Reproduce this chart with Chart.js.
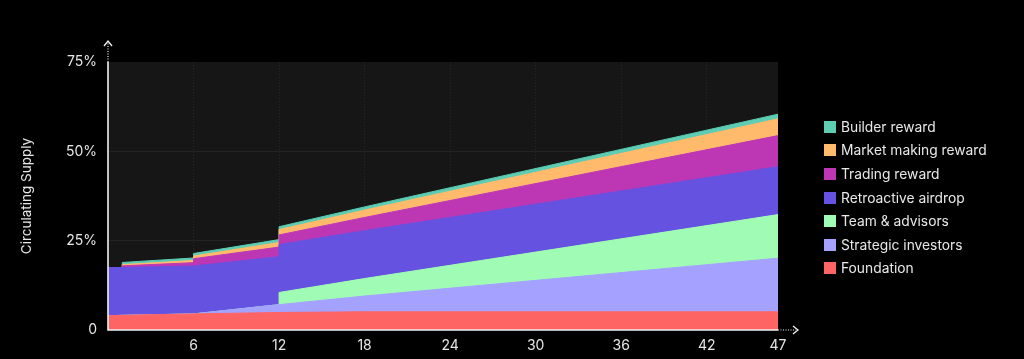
<!DOCTYPE html>
<html><head><meta charset="utf-8">
<script src="https://cdn.jsdelivr.net/npm/chart.js@4.4.1/dist/chart.umd.min.js"></script>
<style>
html,body{margin:0;padding:0;background:#000;}
#wrap{position:relative;width:1024px;height:359px;overflow:hidden;}
canvas{display:block;}
#legend{position:absolute;left:0;top:0;font-family:Inter,"Noto Sans",sans-serif;font-size:13.8px;color:#e8e8e8;}
.item{position:absolute;display:flex;align-items:center;white-space:nowrap;height:16px;line-height:16px;}
.sw{width:12px;height:12px;margin-right:5px;flex:none;}
</style></head>
<body><div id="wrap"><canvas id="c" width="1024" height="359"></canvas><div id="legend"></div></div>
<script>
// ---- data (months since launch, % of total supply per category) ----
const months             = [0,    1,    1,    6,    6,    12,   12,   18,   47];
const foundation         = [4.0,  4.1,  4.1,  4.5,  4.5,  4.9,  4.9,  5.1,  5.1];
const strategicInvestors = [0,    0,    0,    0,    0,    2.2,  2.2,  4.4,  15.0];
const teamAdvisors       = [0,    0,    0,    0,    0,    0,    3.4,  4.9,  12.2];
const retroactiveAirdrop = [13.4, 13.4, 13.4, 13.4, 13.4, 13.4, 13.4, 13.4, 13.4];
const tradingReward      = [0,    0,    0.45, 0.95, 2.05, 2.7,  2.7,  3.7,  8.7];
const marketMakingReward = [0,    0,    0.35, 0.6,  0.75, 1.3,  1.5,  2.05, 4.7];
const builderReward      = [0,    0,    0.6,  0.7,  0.7,  0.8,  0.8,  0.9,  1.3];

const seriesNames = ["Foundation","Strategic investors","Team & advisors","Retroactive airdrop","Trading reward","Market making reward","Builder reward"];
const xTicks = [6,12,18,24,30,36,42,47];
const xTickLabels = ["6","12","18","24","30","36","42","47"];
const yTicks = [0,25,50,75];
const yTickLabels = ["0","25%","50%","75%"];
const yTitle = "Circulating Supply";

// ---- styles ----
const seriesColors = ["#FF6464","#A5A1FF","#A0FCB4","#6652E1","#BD37B5","#FFBA6C","#5DCDB4"];
const series = [foundation, strategicInvestors, teamAdvisors, retroactiveAirdrop, tradingReward, marketMakingReward, builderReward];

let running = months.map(() => 0);
const datasets = series.map((vals, k) => {
  running = running.map((r, i) => r + vals[i]);
  return {
    label: seriesNames[k],
    data: months.map((m, i) => ({x: m, y: running[i]})),
    backgroundColor: seriesColors[k],
    borderColor: seriesColors[k],
    borderWidth: 1,
    fill: 'origin',
    pointRadius: 0,
    pointHoverRadius: 0,
    tension: 0
  };
});

const FONT = 'Inter, "Noto Sans", sans-serif';
const TXT = '#e6e6e6';

const decor = {
  id: 'decor',
  beforeDraw(chart) {
    const {ctx, chartArea: a} = chart;
    ctx.save();
    ctx.fillStyle = '#161616';
    ctx.fillRect(a.left, a.top, a.right - a.left, a.bottom - a.top);
    ctx.restore();
  },
  afterDraw(chart) {
    const {ctx, chartArea: a} = chart;
    ctx.save();
    ctx.strokeStyle = '#f2f2f2';
    ctx.lineWidth = 1.6;
    ctx.beginPath();
    ctx.moveTo(a.left, a.top);
    ctx.lineTo(a.left, a.bottom);
    ctx.lineTo(a.right, a.bottom);
    ctx.stroke();
    ctx.lineWidth = 1.2;
    ctx.setLineDash([1, 1.5]);
    ctx.beginPath();
    ctx.moveTo(a.left, a.top);
    ctx.lineTo(a.left, a.top - 19);
    ctx.moveTo(a.right, a.bottom);
    ctx.lineTo(a.right + 18, a.bottom);
    ctx.stroke();
    ctx.setLineDash([]);
    ctx.lineWidth = 1.3;
    ctx.beginPath();
    ctx.moveTo(a.left - 4, a.top - 16);
    ctx.lineTo(a.left, a.top - 21);
    ctx.lineTo(a.left + 4, a.top - 16);
    ctx.moveTo(a.right + 15, a.bottom - 4);
    ctx.lineTo(a.right + 20, a.bottom);
    ctx.lineTo(a.right + 15, a.bottom + 4);
    ctx.stroke();
    ctx.restore();
  }
};

new Chart(document.getElementById('c'), {
  type: 'line',
  data: {datasets},
  options: {
    responsive: false,
    devicePixelRatio: 1,
    animation: false,
    events: [],
    layout: {padding: {left: 15, right: 246, top: 62, bottom: 0}},
    plugins: {legend: {display: false}, tooltip: {enabled: false}},
    scales: {
      x: {
        type: 'linear', min: 0, max: 47,
        afterBuildTicks: s => { s.ticks = xTicks.map(v => ({value: v})); },
        afterFit: s => { s.height = 29; },
        grid: {
          drawTicks: false,
          color: c => (c.tick && c.tick.value === 47) ? 'rgba(0,0,0,0)' : 'rgba(255,255,255,0.08)',
          lineWidth: 1
        },
        border: {display: false, dash: [1, 2]},
        ticks: {
          padding: 7, color: TXT, font: {family: FONT, size: 14},
          maxRotation: 0, autoSkip: false,
          callback: (v, i) => xTickLabels[i]
        }
      },
      y: {
        min: 0, max: 75,
        afterBuildTicks: s => { s.ticks = yTicks.map(v => ({value: v})); },
        afterFit: s => { s.width = 93; },
        grid: {
          drawTicks: false,
          color: c => (c.tick && (c.tick.value === 0 || c.tick.value === 75)) ? 'rgba(0,0,0,0)' : 'rgba(255,255,255,0.06)'
        },
        border: {display: false},
        ticks: {
          padding: 11, color: TXT, font: {family: FONT, size: 14},
          callback: (v, i) => yTickLabels[i]
        },
        title: {display: true, text: yTitle, color: TXT, font: {family: FONT, size: 13.5}, padding: {top: 4, bottom: 4}}
      }
    }
  },
  plugins: [decor]
});

// HTML legend (top series first)
const legend = document.getElementById('legend');
const LEG_X = 824, LEG_Y0 = 126.7, LEG_STEP = 23.6;
seriesNames.slice().reverse().forEach((name, j) => {
  const k = seriesNames.length - 1 - j;
  const row = document.createElement('div');
  row.className = 'item';
  row.style.left = LEG_X + 'px';
  row.style.top = (LEG_Y0 + j * LEG_STEP - 8) + 'px';
  const sw = document.createElement('span');
  sw.className = 'sw';
  sw.style.background = seriesColors[k];
  const tx = document.createElement('span');
  tx.textContent = name;
  row.appendChild(sw); row.appendChild(tx);
  legend.appendChild(row);
});
</script>
</body></html>
